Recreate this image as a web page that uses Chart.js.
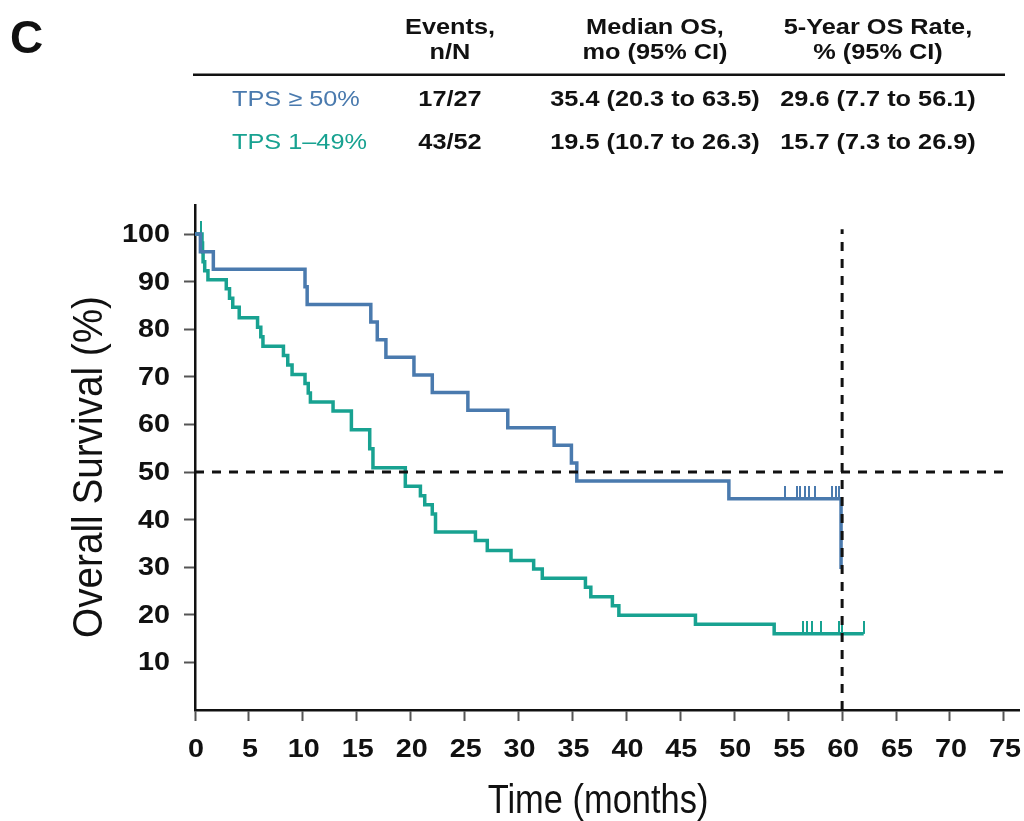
<!DOCTYPE html>
<html lang="en">
<head>
<meta charset="UTF-8">
<title>Overall Survival by TPS</title>
<script src="https://cdn.jsdelivr.net/npm/chart.js"></script>
<style>
  body { margin: 0; background: #fff; }
  .wrap { position: relative; width: 1024px; height: 821px; }
</style>
</head>
<body>
<div class="wrap"><canvas id="osChart"></canvas></div>

<script>
// KM curves (months, % surviving)
const highTimes = [0, 0.5, 1.7, 10.2, 10.4, 16.3, 16.9, 17.7, 20.3, 22.0, 25.3, 29.0, 33.3, 34.9, 35.4, 49.5, 59.9];
const highSurv  = [100, 96.3, 92.6, 88.9, 85.2, 81.5, 77.8, 74.1, 70.4, 66.7, 63.0, 59.3, 55.6, 51.9, 48.1, 44.4, 29.6];
const highCensor = [54.7, 55.8, 56.1, 56.6, 56.9, 57.5, 59.1, 59.4, 59.7];

const lowTimes = [0, 0.65, 0.7, 0.75, 0.9, 1.2, 2.9, 3.2, 3.5, 4.1, 5.8, 6.1, 6.3, 8.2, 8.6, 9.0,
                  10.2, 10.5, 10.7, 12.8, 14.5, 16.2, 16.5, 19.5, 20.9, 21.3, 22.0, 22.3, 26.0, 27.1,
                  29.3, 31.4, 32.2, 36.2, 36.7, 38.7, 39.3, 46.4, 53.7, 62.0];
const lowSurv  = [100, 98.1, 96.2, 94.2, 92.3, 90.4, 88.5, 86.5, 84.6, 82.4, 80.4, 78.4, 76.4, 74.5, 72.5, 70.5,
                  68.6, 66.6, 64.7, 62.8, 58.9, 54.9, 50.9, 47.0, 45.0, 43.1, 41.2, 37.4, 35.6, 33.5,
                  31.4, 29.6, 27.7, 25.8, 23.8, 21.9, 19.9, 18.0, 16.0, 16.0];
const lowCensor = [0.6, 56.4, 56.7, 57.2, 58.0, 59.7, 60.0, 62.0];

const medianLevel = 50;
const landmarkMonth = 60;

const xTickValues = [0, 5, 10, 15, 20, 25, 30, 35, 40, 45, 50, 55, 60, 65, 70, 75];
const yTickValues = [10, 20, 30, 40, 50, 60, 70, 80, 90, 100];

const xTitle = 'Time (months)';
const yTitle = 'Overall Survival (%)';

// table above the plot
const panelLetter = 'C';
const tableHeaders = [['Events,', 'n/N'], ['Median OS,', 'mo (95% CI)'], ['5-Year OS Rate,', '% (95% CI)']];
const groupNames = ['TPS \u2265 50%', 'TPS 1\u201349%'];
const groupEvents = ['17/27', '43/52'];
const groupMedian = ['35.4 (20.3 to 63.5)', '19.5 (10.7 to 26.3)'];
const groupRate = ['29.6 (7.7 to 56.1)', '15.7 (7.3 to 26.9)'];

const highColor = '#4a7aae';
const lowColor = '#18a291';
const FONT = '"Liberation Sans", Arial, sans-serif';

function kmPoints(times, surv) {
    return times.map((t, i) => ({ x: t, y: surv[i] }));
}

function survAt(times, surv, t) {
    let s = surv[0];
    for (let i = 0; i < times.length; i++) {
        if (times[i] <= t) s = surv[i];
    }
    return s;
}

function censorPoints(ct, times, surv) {
    return ct.map(t => ({ x: t, y: survAt(times, surv, t) }));
}

// small upward tick used as censor mark
function censorMark(color) {
    const c = document.createElement('canvas');
    c.width = 2;
    c.height = 26;
    const g = c.getContext('2d');
    g.fillStyle = color;
    g.fillRect(0, 0, 2, 13);
    return c;
}

function stretchText(ctx, text, x, y, align, sx) {
    ctx.save();
    ctx.translate(x, y);
    ctx.scale(sx, 1);
    ctx.textAlign = align;
    ctx.fillText(text, 0, 0);
    ctx.restore();
}

const figureText = {
    id: 'figureText',
    afterDraw(chart) {
        const ctx = chart.ctx;
        const xs = chart.scales.x;
        const ys = chart.scales.y;
        ctx.save();
        ctx.fillStyle = '#111';

        // tick labels
        ctx.font = 'bold 25px ' + FONT;
        ctx.textBaseline = 'middle';
        yTickValues.forEach(v => stretchText(ctx, String(v), 170, ys.getPixelForValue(v) + 1, 'right', 1.15));
        xTickValues.forEach(v => stretchText(ctx, String(v), xs.getPixelForValue(v) + 1, 750, 'center', 1.15));

        // axis titles
        ctx.font = '41px ' + FONT;
        ctx.textBaseline = 'alphabetic';
        stretchText(ctx, xTitle, 598, 813, 'center', 0.84);
        ctx.font = '43px ' + FONT;
        ctx.save();
        ctx.translate(102, 467);
        ctx.rotate(-Math.PI / 2);
        ctx.scale(0.9, 1);
        ctx.textAlign = 'center';
        ctx.fillText(yTitle, 0, 0);
        ctx.restore();

        // panel letter
        ctx.font = 'bold 46px ' + FONT;
        ctx.textAlign = 'left';
        ctx.fillText(panelLetter, 10, 53);

        // table
        const colX = [450, 655, 878];
        ctx.font = 'bold 22px ' + FONT;
        ctx.textBaseline = 'middle';
        tableHeaders.forEach((h, i) => {
            stretchText(ctx, h[0], colX[i], 28, 'center', 1.15);
            stretchText(ctx, h[1], colX[i], 53, 'center', 1.15);
        });
        ctx.fillRect(193, 73.5, 812, 2.5);

        const rowY = [100, 143];
        const rowColors = [highColor, lowColor];
        groupNames.forEach((name, r) => {
            ctx.font = '22px ' + FONT;
            ctx.fillStyle = rowColors[r];
            stretchText(ctx, name, 232, rowY[r], 'left', 1.15);
            ctx.font = 'bold 22px ' + FONT;
            ctx.fillStyle = '#111';
            stretchText(ctx, groupEvents[r], colX[0], rowY[r], 'center', 1.15);
            stretchText(ctx, groupMedian[r], colX[1], rowY[r], 'center', 1.15);
            stretchText(ctx, groupRate[r], colX[2], rowY[r], 'center', 1.15);
        });
        ctx.restore();
    }
};

const dashStyle = { borderColor: '#111', borderWidth: 3, borderDash: [9, 8], pointRadius: 0, order: 0 };

new Chart(document.getElementById('osChart'), {
    type: 'line',
    data: {
        datasets: [
            Object.assign({ label: 'median', data: [{ x: 0, y: medianLevel }, { x: 75, y: medianLevel }] }, dashStyle),
            Object.assign({ label: '5-year', data: [{ x: landmarkMonth, y: 0 }, { x: landmarkMonth, y: 101 }] }, dashStyle),
            {
                label: groupNames[0],
                data: kmPoints(highTimes, highSurv),
                stepped: true,
                borderColor: highColor,
                borderWidth: 3.5,
                pointRadius: 0,
                order: 1
            },
            {
                label: groupNames[1],
                data: kmPoints(lowTimes, lowSurv),
                stepped: true,
                borderColor: lowColor,
                borderWidth: 3.5,
                pointRadius: 0,
                order: 1
            },
            {
                label: 'censored high',
                data: censorPoints(highCensor, highTimes, highSurv),
                showLine: false,
                pointStyle: censorMark(highColor),
                pointRadius: 3,
                order: 2
            },
            {
                label: 'censored low',
                data: censorPoints(lowCensor, lowTimes, lowSurv),
                showLine: false,
                pointStyle: censorMark(lowColor),
                pointRadius: 3,
                order: 2
            }
        ]
    },
    options: {
        responsive: true,
        maintainAspectRatio: false,
        animation: false,
        layout: { padding: { top: 205, right: 4, left: 0, bottom: 0 } },
        plugins: { legend: { display: false }, tooltip: { enabled: false } },
        scales: {
            x: {
                type: 'linear',
                min: 0,
                max: 76.4,
                afterBuildTicks: s => { s.ticks = xTickValues.map(v => ({ value: v })); },
                afterFit: s => { s.height = 111; },
                grid: { drawOnChartArea: false, tickLength: 11, tickColor: '#555', tickWidth: 2 },
                border: { color: '#111', width: 2.5 },
                ticks: { display: false }
            },
            y: {
                type: 'linear',
                min: 0,
                max: 106.1,
                afterBuildTicks: s => { s.ticks = yTickValues.map(v => ({ value: v })); },
                afterFit: s => { s.width = 195; },
                grid: { drawOnChartArea: false, tickLength: 11, tickColor: '#555', tickWidth: 2 },
                border: { color: '#111', width: 2.5 },
                ticks: { display: false }
            }
        }
    },
    plugins: [figureText]
});
</script>
</body>
</html>
